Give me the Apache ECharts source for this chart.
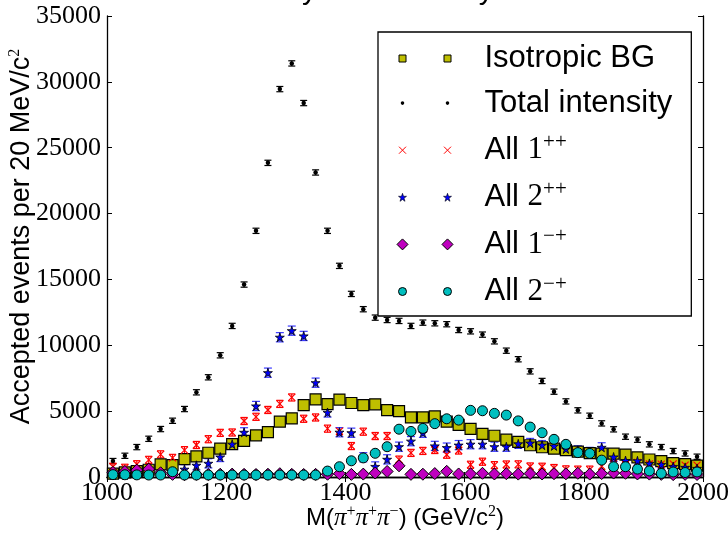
<!DOCTYPE html>
<html>
<head>
<meta charset="utf-8">
<script src="https://cdn.jsdelivr.net/npm/echarts@6/dist/echarts.min.js"></script>
<style>
  html, body { margin: 0; padding: 0; background: #fff; }
  #chart { width: 728px; height: 533px; }
</style>
</head>
<body>
<div id="chart"></div>
<script>
// bin centres, 20 MeV bins
const massBins = [1010, 1030, 1050, 1070, 1090, 1110, 1130, 1150, 1170, 1190,
  1210, 1230, 1250, 1270, 1290, 1310, 1330, 1350, 1370, 1390,
  1410, 1430, 1450, 1470, 1490, 1510, 1530, 1550, 1570, 1590,
  1610, 1630, 1650, 1670, 1690, 1710, 1730, 1750, 1770, 1790,
  1810, 1830, 1850, 1870, 1890, 1910, 1930, 1950, 1970, 1990];

const xTicks = [1000, 1200, 1400, 1600, 1800, 2000];
const yTicks = [0, 5000, 10000, 15000, 20000, 25000, 30000, 35000];

const isotropicBG = [250, 350, 450, 550, 960, 900, 1360, 1570, 1840, 2150,
  2490, 2740, 3160, 3410, 4200, 4450, 5450, 5890, 5540, 5880,
  5620, 5460, 5520, 5070, 5000, 4530, 4530, 4600, 4200, 3950,
  3650, 3270, 3130, 2830, 2670, 2410, 2260, 2150, 2040, 1920,
  1820, 1770, 1770, 1700, 1490, 1330, 1210, 1050, 970, 870];

const totalIntensity = [1210, 1610, 2270, 2900, 3640, 4270, 5160, 6430, 7570, 9240,
  11470, 14610, 18690, 23850, 29450, 31400, 28390, 23120, 18690, 16030,
  13900, 12740, 12100, 11920, 11850, 11470, 11720, 11670, 11600, 11160,
  11060, 10810, 10300, 9590, 8940, 8020, 7290, 6480, 5740, 5060,
  4650, 4070, 3620, 3060, 2830, 2480, 2270, 1970, 1790, 1540];

const all1pp = [780, 700, 970, 1300, 1720, 1450, 2040, 2430, 2870, 3350,
  3380, 4250, 4570, 5090, 5550, 6040, 4420, 4520, 3670, 3480,
  2350, 3440, 3110, 3110, 1320, 1830, 1980, 2050, 1690, 2010,
  930, 1160, 900, 950, 960, 800, 780, 680, 580, 560,
  560, 820, 1000, 900, 1100, 1000, 980, 1000, 900, 900];

const all2pp = [150, 150, 200, 250, 300, 350, 590, 890, 1040, 1520,
  2490, 3390, 5390, 7920, 10610, 11110, 10710, 7160, 4900, 3400,
  3360, 1500, 800, 1340, 2300, 2720, 3360, 2360, 2230, 2420,
  2490, 2490, 2300, 2300, 2520, 2580, 2420, 2360, 2130, 2020,
  1900, 2250, 1520, 1250, 1230, 1030, 950, 800, 730, 650];

const all1mp = [350, 420, 520, 600, 320, 200, 180, 200, 190, 210,
  220, 200, 190, 210, 250, 200, 190, 200, 210, 250,
  200, 220, 300, 420, 850, 200, 210, 260, 430, 230,
  240, 280, 230, 250, 220, 260, 230, 250, 240, 280,
  220, 260, 300, 280, 230, 220, 200, 180, 200, 190];

const all2mp = [180, 170, 160, 150, 150, 400, 150, 150, 150, 150,
  150, 150, 150, 150, 150, 150, 150, 150, 450, 780,
  1230, 1450, 1800, 2300, 3630, 3460, 3690, 4050, 4420, 4320,
  5060, 5030, 4830, 4700, 4260, 3790, 3360, 2860, 2480, 1850,
  1790, 1280, 780, 780, 600, 460, 270, 380, 340, 380];

// statistical error half-widths
const totalErr = 200;
const all1ppErr = 270;
const all2ppErr = 350;

const starPath = 'path://M50,0L61,35L98,35L68,57L79,91L50,70L21,91L32,57L2,35L39,35Z';
const crossPath = 'path://M0,0L10,10M10,0L0,10';

function pairs(values) {
  return massBins.map((m, i) => [m, values[i]]);
}

function errorBars(name, values, err, color, cap) {
  return {
    type: 'custom',
    name: name,
    silent: true,
    clip: true,
    data: massBins.map((m, i) => [m, values[i] - err, values[i] + err]),
    encode: { x: 0, y: [1, 2] },
    renderItem: function (params, api) {
      const lo = api.coord([api.value(0), api.value(1)]);
      const hi = api.coord([api.value(0), api.value(2)]);
      const style = { stroke: color, lineWidth: 1.2 };
      return {
        type: 'group',
        children: [
          { type: 'line', shape: { x1: lo[0], y1: lo[1], x2: hi[0], y2: hi[1] }, style: style },
          { type: 'line', shape: { x1: lo[0] - cap, y1: lo[1], x2: lo[0] + cap, y2: lo[1] }, style: style },
          { type: 'line', shape: { x1: hi[0] - cap, y1: hi[1], x2: hi[0] + cap, y2: hi[1] }, style: style }
        ]
      };
    }
  };
}

// legend icons: two markers per entry; the box is wider so the text sits further right
const c1 = 6, c2 = 51;
const box = 'M0,0M83,14';
function twice(fn) { return 'path://' + box + fn(c1) + fn(c2); }
const legendIcons = {
  'Isotropic BG': twice(c => `M${c - 3.5},3.5h7v7h-7z`),
  'Total intensity': twice(c => `M${c + 1.8},7A1.8,1.8 0 1 1 ${c - 1.8},7A1.8,1.8 0 1 1 ${c + 1.8},7Z`),
  'All 1++': twice(c => `M${c - 3.5},3.5L${c + 3.5},10.5M${c + 3.5},3.5L${c - 3.5},10.5`),
  'All 2++': twice(c => `M${c},3L${c + 1},6L${c + 4},6L${c + 1.5},8L${c + 2.5},11L${c},9.2L${c - 2.5},11L${c - 1.5},8L${c - 4},6L${c - 1},6Z`),
  'All 1-+': twice(c => `M${c},1.5L${c + 5.5},7L${c},12.5L${c - 5.5},7Z`),
  'All 2-+': twice(c => `M${c + 4},7A4,4 0 1 1 ${c - 4},7A4,4 0 1 1 ${c + 4},7Z`)
};

const chart = echarts.init(document.getElementById('chart'), null, { renderer: 'canvas' });

const sans = 'Liberation Sans';
const serif = 'Liberation Serif';
const plainNumber = v => String(v);

chart.setOption({
  animation: false,
  backgroundColor: '#fff',
  title: {
    text: 'Analysis of data by J',
    left: 237,
    top: -29,
    textStyle: { fontFamily: sans, fontSize: 30, fontWeight: 'normal', color: '#000' }
  },
  grid: { left: 107, right: 25, top: 16, bottom: 56, containLabel: false, outerBoundsMode: 'none' },
  legend: {
    orient: 'vertical',
    left: 378,
    top: 32,
    padding: [11, 19, 9, 16],
    borderColor: '#000',
    borderWidth: 1.3,
    backgroundColor: '#fff',
    itemWidth: 83,
    itemHeight: 14,
    itemGap: 13.6,
    selectedMode: false,
    data: [
      { name: 'Isotropic BG', icon: legendIcons['Isotropic BG'], itemStyle: { color: '#bfbf00', borderColor: '#000', borderWidth: 1 } },
      { name: 'Total intensity', icon: legendIcons['Total intensity'], itemStyle: { color: '#000', borderWidth: 0 } },
      { name: 'All 1++', icon: legendIcons['All 1++'], itemStyle: { color: 'none', borderColor: '#ff0000', borderWidth: 1 } },
      { name: 'All 2++', icon: legendIcons['All 2++'], itemStyle: { color: '#0000ff', borderColor: '#000', borderWidth: 0.6 } },
      { name: 'All 1-+', icon: legendIcons['All 1-+'], itemStyle: { color: '#bf00bf', borderColor: '#000', borderWidth: 1 } },
      { name: 'All 2-+', icon: legendIcons['All 2-+'], itemStyle: { color: '#00bfbf', borderColor: '#000', borderWidth: 1 } }
    ],
    formatter: function (name) {
      if (name.indexOf('All ') !== 0) return '{t|' + name + '}';
      const j = name.charAt(4);
      const pc = name.slice(5).replace('-', '\u2212');
      return '{t|All }{m|' + j + '}{p|' + pc + '}';
    },
    textStyle: {
      color: '#000',
      rich: {
        t: { fontFamily: sans, fontSize: 31, lineHeight: 36, color: '#000' },
        m: { fontFamily: serif, fontSize: 31, lineHeight: 36, color: '#000' },
        p: { fontFamily: serif, fontSize: 21, lineHeight: 22, verticalAlign: 'top', color: '#000' }
      }
    }
  },
  xAxis: [{
    type: 'value',
    min: xTicks[0],
    max: xTicks[xTicks.length - 1],
    interval: xTicks[1] - xTicks[0],
    name: '{s|M(}{m|\u03c0}{p|+}{m|\u03c0}{p|+}{m|\u03c0}{p|\u2212}{s|) (GeV/c}{p|2}{s|)}',
    nameLocation: 'middle',
    nameGap: 27,
    nameMoveOverlap: false,
    nameTextStyle: {
      rich: {
        s: { fontFamily: sans, fontSize: 24, lineHeight: 28, color: '#000' },
        m: { fontFamily: serif, fontStyle: 'italic', fontSize: 25, lineHeight: 28, color: '#000' },
        p: { fontFamily: serif, fontSize: 16, lineHeight: 16, verticalAlign: 'top', color: '#000' }
      }
    },
    axisLine: { lineStyle: { color: '#000', width: 1.3 } },
    axisTick: { inside: true, length: 5, lineStyle: { color: '#000' } },
    axisLabel: { fontFamily: serif, fontSize: 26, color: '#000', margin: 3, formatter: plainNumber },
    splitLine: { show: false }
  }, {
    type: 'value',
    position: 'top',
    min: xTicks[0],
    max: xTicks[xTicks.length - 1],
    interval: xTicks[1] - xTicks[0],
    axisLine: { lineStyle: { color: '#000', width: 1.3 } },
    axisTick: { inside: true, length: 5, lineStyle: { color: '#000' } },
    axisLabel: { show: false },
    splitLine: { show: false }
  }],
  yAxis: [{
    type: 'value',
    min: yTicks[0],
    max: yTicks[yTicks.length - 1],
    interval: yTicks[1] - yTicks[0],
    name: '{a|Accepted events per 20 MeV/c}{p|2}',
    nameLocation: 'middle',
    nameRotate: 90,
    nameGap: 70,
    nameMoveOverlap: false,
    nameTextStyle: {
      padding: [0, 0, 0, 20],
      rich: {
        a: { fontFamily: sans, fontSize: 27, lineHeight: 30, color: '#000' },
        p: { fontFamily: serif, fontSize: 16, lineHeight: 16, verticalAlign: 'top', color: '#000' }
      }
    },
    axisLine: { show: true, lineStyle: { color: '#000', width: 1.3 } },
    axisTick: { show: true, inside: true, length: 5, lineStyle: { color: '#000' } },
    axisLabel: { fontFamily: serif, fontSize: 26, color: '#000', margin: 6, formatter: plainNumber },
    splitLine: { show: false }
  }, {
    type: 'value',
    position: 'right',
    min: yTicks[0],
    max: yTicks[yTicks.length - 1],
    interval: yTicks[1] - yTicks[0],
    axisLine: { show: true, lineStyle: { color: '#000', width: 1.3 } },
    axisTick: { show: true, inside: true, length: 5, lineStyle: { color: '#000' } },
    axisLabel: { show: false },
    splitLine: { show: false }
  }],
  series: [
    {
      name: 'Isotropic BG', type: 'scatter', symbol: 'rect', symbolSize: 11,
      data: pairs(isotropicBG),
      itemStyle: { color: '#bfbf00', borderColor: '#000', borderWidth: 1.2, opacity: 1 }
    },
    errorBars('err total', totalIntensity, totalErr, '#000', 3.5),
    {
      name: 'Total intensity', type: 'scatter', symbol: 'circle', symbolSize: 4.5,
      data: pairs(totalIntensity),
      itemStyle: { color: '#000', opacity: 1 }
    },
    errorBars('err 1++', all1pp, all1ppErr, '#ff0000', 3.5),
    {
      name: 'All 1++', type: 'scatter', symbol: crossPath, symbolSize: 7,
      data: pairs(all1pp),
      itemStyle: { color: 'none', borderColor: '#ff0000', borderWidth: 1.2, opacity: 1 }
    },
    errorBars('err 2++', all2pp, all2ppErr, '#3a3aff', 4),
    {
      name: 'All 2++', type: 'scatter', symbol: starPath, symbolSize: 9,
      data: pairs(all2pp),
      itemStyle: { color: '#0000ff', borderColor: '#000', borderWidth: 0.8, opacity: 1 }
    },
    {
      name: 'All 1-+', type: 'scatter', symbol: 'diamond', symbolSize: 12,
      data: pairs(all1mp),
      itemStyle: { color: '#bf00bf', borderColor: '#000', borderWidth: 1, opacity: 1 }
    },
    {
      name: 'All 2-+', type: 'scatter', symbol: 'circle', symbolSize: 10,
      data: pairs(all2mp),
      itemStyle: { color: '#00bfbf', borderColor: '#000', borderWidth: 1, opacity: 1 }
    }
  ]
});
</script>
</body>
</html>
